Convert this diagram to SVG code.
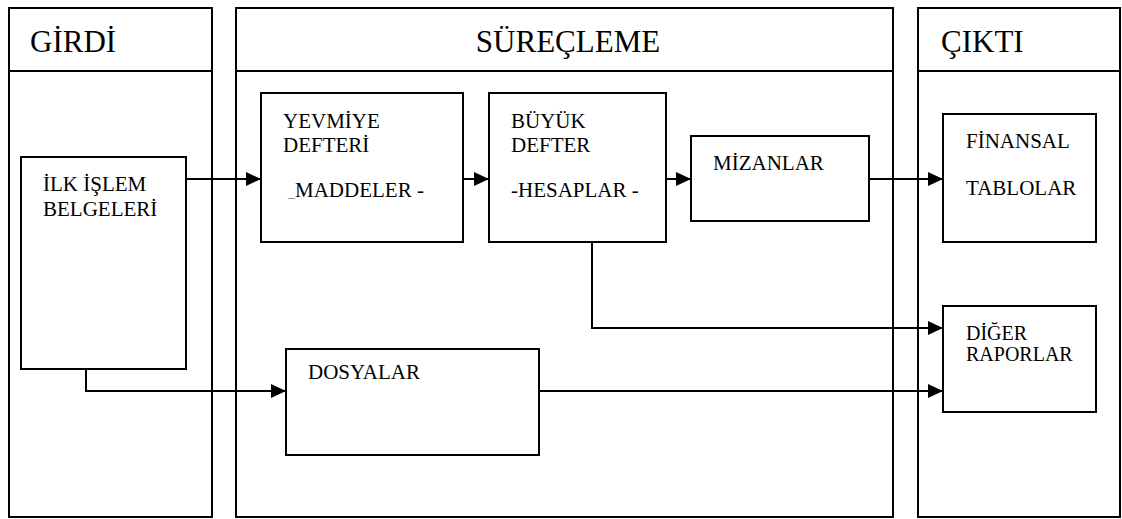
<svg xmlns="http://www.w3.org/2000/svg" width="1122" height="519" viewBox="0 0 1122 519" font-family="Liberation Serif, Times New Roman, serif">
<defs>
<style>
.box{fill:#fff;stroke:#000;stroke-width:2}
.ln{fill:none;stroke:#000;stroke-width:2}
.t{font-size:21px;fill:#000}
.s{font-size:20px;fill:#000}
.h{font-size:31px;fill:#000}
</style>
<marker id="ar" markerWidth="15" markerHeight="14" refX="15" refY="7" orient="auto" markerUnits="userSpaceOnUse">
<path d="M0,0 L15,7 L0,14 Z" fill="#000"/>
</marker>
</defs>
<rect width="1122" height="519" fill="#fff"/>
<g id="col-girdi">
<rect class="box" x="9" y="8" width="203" height="509"/>
<line class="ln" x1="9" y1="71" x2="212" y2="71"/>
<text class="h" x="30" y="52" font-family="Liberation Serif, serif">GİRDİ</text>
</g>
<g id="col-surecleme">
<rect class="box" x="236" y="8" width="657" height="509"/>
<line class="ln" x1="236" y1="71" x2="893" y2="71"/>
<text class="h" x="568" y="52" text-anchor="middle" font-family="Liberation Serif, serif">SÜREÇLEME</text>
</g>
<g id="col-cikti">
<rect class="box" x="918" y="8" width="202" height="509"/>
<line class="ln" x1="918" y1="71" x2="1120" y2="71"/>
<text class="h" x="941" y="52" font-family="Liberation Serif, serif">ÇIKTI</text>
</g>
<g id="ilk-islem">
<rect class="box" x="21" y="157" width="165" height="212"/>
<text class="t" x="43" y="191" font-family="Liberation Serif, serif">İLK İŞLEM</text>
<text class="t" x="43" y="216" font-family="Liberation Serif, serif">BELGELERİ</text>
</g>
<g id="yevmiye">
<rect class="box" x="261" y="93" width="202" height="149"/>
<text class="t" x="283" y="128" font-family="Liberation Serif, serif">YEVMİYE</text>
<text class="t" x="283" y="152" font-family="Liberation Serif, serif">DEFTERİ</text>
<text class="t" x="288" y="197" font-family="Liberation Serif, serif"><tspan fill="#777" font-size="14">_</tspan>MADDELER -</text>
</g>
<g id="buyuk-defter">
<rect class="box" x="489" y="93" width="177" height="149"/>
<text class="t" x="511" y="128" font-family="Liberation Serif, serif">BÜYÜK</text>
<text class="t" x="511" y="152" font-family="Liberation Serif, serif">DEFTER</text>
<text class="t" x="511" y="197" font-family="Liberation Serif, serif">-HESAPLAR -</text>
</g>
<g id="mizanlar">
<rect class="box" x="691" y="136" width="178" height="85"/>
<text class="t" x="713" y="170" font-family="Liberation Serif, serif">MİZANLAR</text>
</g>
<g id="finansal">
<rect class="box" x="943" y="114" width="153" height="128"/>
<text class="t" x="966" y="148" font-family="Liberation Serif, serif">FİNANSAL</text>
<text class="t" x="966" y="195" font-family="Liberation Serif, serif">TABLOLAR</text>
</g>
<g id="diger">
<rect class="box" x="943" y="306" width="153" height="106"/>
<text class="s" x="966" y="340" font-family="Liberation Serif, serif">DİĞER</text>
<text class="s" x="966" y="361" font-family="Liberation Serif, serif">RAPORLAR</text>
</g>
<g id="dosyalar">
<rect class="box" x="286" y="349" width="253" height="106"/>
<text class="t" x="308" y="379" font-family="Liberation Serif, serif">DOSYALAR</text>
</g>
<g id="connectors">
<path class="ln" d="M186,179 H261" marker-end="url(#ar)"/>
<path class="ln" d="M463,179 H489" marker-end="url(#ar)"/>
<path class="ln" d="M666,179 H691" marker-end="url(#ar)"/>
<path class="ln" d="M869,179 H943" marker-end="url(#ar)"/>
<path class="ln" d="M592,242 V328 H943" marker-end="url(#ar)"/>
<path class="ln" d="M86,369 V391 H286" marker-end="url(#ar)"/>
<path class="ln" d="M539,391 H943" marker-end="url(#ar)"/>
</g>
</svg>
